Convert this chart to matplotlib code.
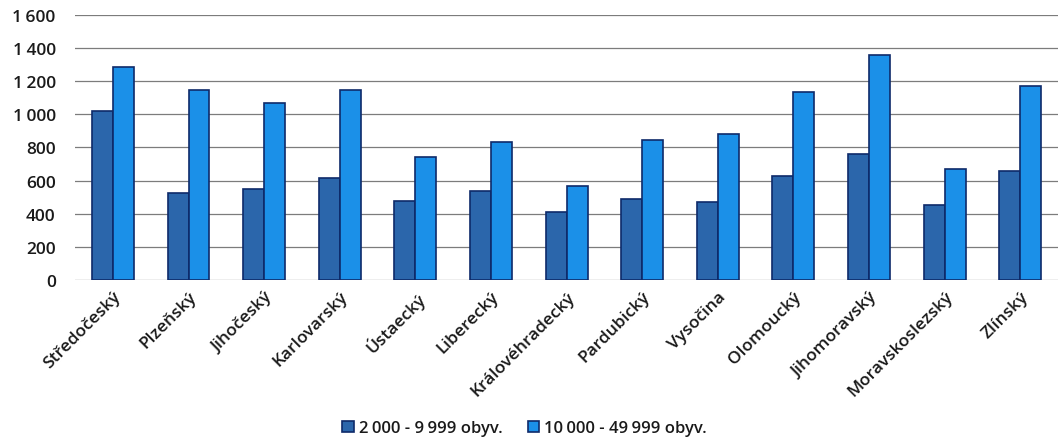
import numpy as np
import matplotlib
matplotlib.use("Agg")
import matplotlib.pyplot as plt

regions = ["Středočeský", "Plzeňský", "Jihočeský", "Karlovarský", "Ústaecký",
           "Liberecký", "Královéhradecký", "Pardubický", "Vysočina", "Olomoucký",
           "Jihomoravský", "Moravskoslezský", "Zlínský"]
small_towns = [1020, 524, 548, 616, 476, 540, 408, 488, 471, 628, 760, 451, 656]
large_towns = [1283, 1150, 1070, 1150, 741, 833, 568, 845, 881, 1134, 1359, 672, 1170]
yticks = [0, 200, 400, 600, 800, 1000, 1200, 1400, 1600]
ytick_labels = ["0", "200", "400", "600", "800", "1\u2009000", "1\u2009200", "1\u2009400", "1\u2009600"]
series_names = ["2\u2009000 - 9\u2009999 obyv.", "10\u2009000 - 49\u2009999 obyv."]

plt.rcParams['font.family'] = ['Open Sans', 'DejaVu Sans']

fig = plt.figure(figsize=(10.58, 4.39), dpi=100)
ax = fig.add_axes([0.071, 0.36, 0.929, 0.6036])

x = np.arange(len(regions))
w = 0.277
edge = "#0e2a6a"
ax.bar(x - w / 2, small_towns, w, color="#2b66ab", edgecolor=edge, linewidth=1.2,
       label=series_names[0], zorder=3)
ax.bar(x + w / 2, large_towns, w, color="#1b90e8", edgecolor=edge, linewidth=1.2,
       label=series_names[1], zorder=3)

ax.set_xlim(-0.5, len(regions) - 0.5)
ax.set_ylim(0, 1600)
ax.set_yticks(yticks)
ax.set_yticklabels(ytick_labels, fontsize=12.5, color="#1a1a1a", fontweight="semibold")
ax.set_xticks(x)
ax.set_xticklabels(regions, rotation=45, ha="right", rotation_mode="anchor",
                   fontsize=12.5, color="#1a1a1a", fontweight="semibold")
ax.tick_params(axis="both", length=0)
ax.tick_params(axis="y", pad=14)
ax.tick_params(axis="x", pad=6)

for s in ax.spines.values():
    s.set_visible(False)
ax.yaxis.grid(True, color="#444444", linewidth=0.9, alpha=0.7, zorder=0)
ax.set_axisbelow(True)

fig.legend(loc="lower center", bbox_to_anchor=(0.496, -0.03), ncol=2, frameon=False,
           prop={"size": 12, "weight": "semibold"}, handlelength=0.7, handleheight=0.7,
           handletextpad=0.3, columnspacing=1.5, labelcolor="#1a1a1a")

fig.savefig("out.png", dpi=100)
